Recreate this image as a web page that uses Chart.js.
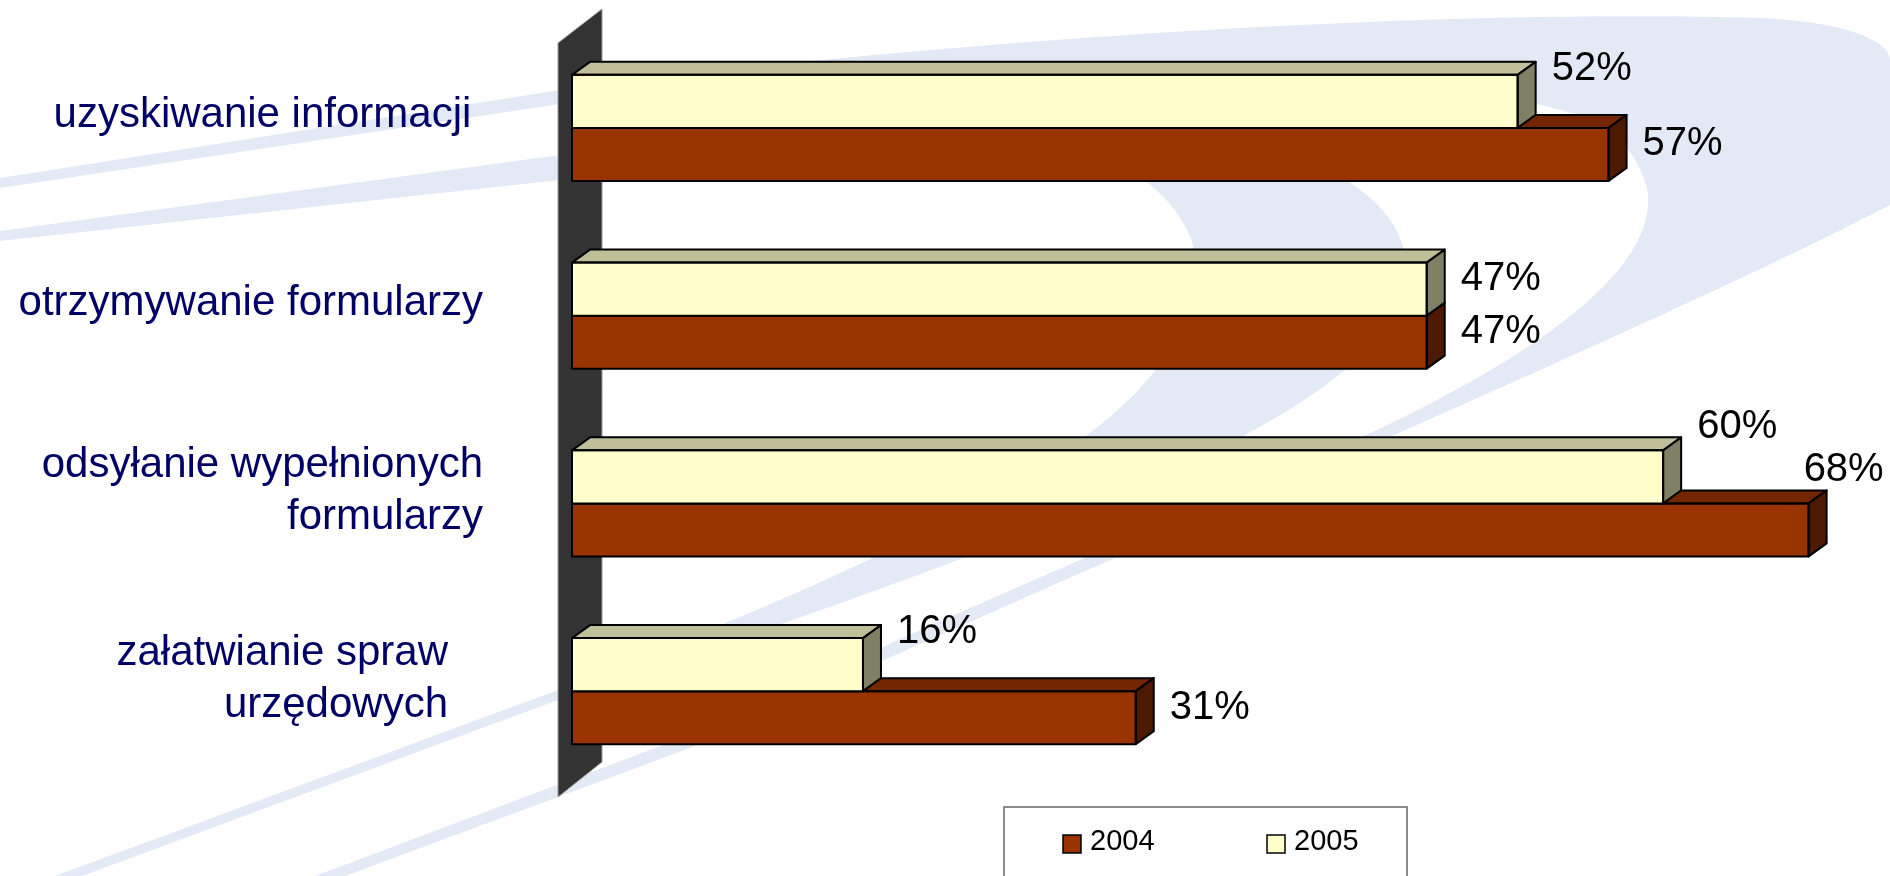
<!DOCTYPE html>
<html>
<head>
<meta charset="utf-8">
<title>Korzystanie z e-administracji 2004 / 2005</title>
<script src="https://cdn.jsdelivr.net/npm/chart.js@4.4.1/dist/chart.umd.min.js"></script>
<style>
  html, body { margin: 0; padding: 0; background: #fff; }
  #wrap { position: relative; width: 1890px; height: 876px; }
</style>
</head>
<body>
<div id="wrap"><canvas id="chart"></canvas></div>
<script>
// Categories, wrapped the way they are on the slide
const categories = [
    'uzyskiwanie informacji',
    'otrzymywanie formularzy',
    ['odsyłanie wypełnionych', 'formularzy'],
    ['załatwianie spraw', 'urzędowych']
];
const values2005 = [52, 47, 60, 16];
const values2004 = [57, 47, 68, 31];
const axisMax = 70;

const FONT = "'Liberation Sans', Arial, sans-serif";
const DEPTH_X = 18;
const DEPTH_Y = -13;

// front / top / side colours of the 3D bars
const faces = {
    '2005': { front: '#FFFFCC', top: '#BFBF99', side: '#808066' },
    '2004': { front: '#993300', top: '#732600', side: '#4D1900' }
};

// light blue swoosh in the slide background
const swooshPlugin = {
    id: 'swoosh',
    beforeDraw(chart) {
        const ctx = chart.ctx;
        ctx.save();
        ctx.fillStyle = '#E3EAF6';

        // outer band: thin line from the left, across the top, round the right, down to bottom left
        ctx.beginPath();
        ctx.moveTo(0, 178);
        ctx.lineTo(560, 90);
        ctx.bezierCurveTo(900, 45, 1400, 8, 1760, 18);
        ctx.bezierCurveTo(1850, 22, 1890, 42, 1890, 60);
        ctx.lineTo(1890, 205);
        ctx.bezierCurveTo(1650, 330, 1100, 560, 690, 748);
        ctx.lineTo(345, 876);
        ctx.lineTo(315, 876);
        ctx.lineTo(690, 735);
        ctx.bezierCurveTo(1000, 590, 1250, 490, 1400, 419);
        ctx.bezierCurveTo(1560, 340, 1660, 260, 1647, 188);
        ctx.bezierCurveTo(1630, 120, 1560, 100, 1450, 95);
        ctx.bezierCurveTo(1200, 85, 900, 90, 560, 104);
        ctx.lineTo(0, 188);
        ctx.closePath();
        ctx.fill();

        // inner arc, tapering into the line at bottom left
        ctx.beginPath();
        ctx.moveTo(950, 100);
        ctx.bezierCurveTo(1280, 110, 1440, 190, 1400, 300);
        ctx.bezierCurveTo(1360, 410, 1100, 520, 558, 700);
        ctx.lineTo(82, 876);
        ctx.lineTo(55, 876);
        ctx.lineTo(558, 690);
        ctx.bezierCurveTo(1000, 520, 1150, 420, 1190, 310);
        ctx.bezierCurveTo(1220, 220, 1150, 150, 950, 100);
        ctx.closePath();
        ctx.fill();

        // second thin line on the left
        ctx.beginPath();
        ctx.moveTo(0, 231);
        ctx.lineTo(560, 155);
        ctx.lineTo(560, 180);
        ctx.lineTo(0, 241);
        ctx.closePath();
        ctx.fill();
        ctx.restore();
    }
};

// dark 3D side wall behind the category axis
const wallPlugin = {
    id: 'wall',
    beforeDatasetsDraw(chart) {
        const { ctx, chartArea: a } = chart;
        ctx.save();
        ctx.fillStyle = '#333333';
        ctx.strokeStyle = '#999999';
        ctx.lineWidth = 1;
        ctx.beginPath();
        ctx.moveTo(a.left - 14, a.bottom + 12);
        ctx.lineTo(a.left - 14, a.top + 9);
        ctx.lineTo(a.left + 30, a.top - 25);
        ctx.lineTo(a.left + 30, a.bottom - 23);
        ctx.closePath();
        ctx.fill();
        ctx.stroke();
        ctx.restore();
    }
};

// top and end faces of every bar, drawn right after its dataset
const barDepthPlugin = {
    id: 'barDepth',
    afterDatasetDraw(chart, args) {
        const ctx = chart.ctx;
        const c = faces[chart.data.datasets[args.index].label];
        ctx.save();
        ctx.strokeStyle = '#000';
        ctx.lineWidth = 2;
        ctx.lineJoin = 'round';
        args.meta.data.forEach(bar => {
            const left = bar.base, right = bar.x;
            const top = bar.y - bar.height / 2, bottom = bar.y + bar.height / 2;

            ctx.fillStyle = c.top;
            ctx.beginPath();
            ctx.moveTo(left, top);
            ctx.lineTo(left + DEPTH_X, top + DEPTH_Y);
            ctx.lineTo(right + DEPTH_X, top + DEPTH_Y);
            ctx.lineTo(right, top);
            ctx.closePath();
            ctx.fill();
            ctx.stroke();

            ctx.fillStyle = c.side;
            ctx.beginPath();
            ctx.moveTo(right, top);
            ctx.lineTo(right + DEPTH_X, top + DEPTH_Y);
            ctx.lineTo(right + DEPTH_X, bottom + DEPTH_Y);
            ctx.lineTo(right, bottom);
            ctx.closePath();
            ctx.fill();
            ctx.stroke();

            // front outline on all four sides
            ctx.strokeRect(left, top, right - left, bottom - top);
        });
        ctx.restore();
    }
};

// percentage labels next to the bar ends
const valueLabelPlugin = {
    id: 'valueLabels',
    afterDatasetsDraw(chart) {
        const ctx = chart.ctx;
        const upper = chart.getDatasetMeta(0), lower = chart.getDatasetMeta(1);
        const up = chart.data.datasets[0].data, lo = chart.data.datasets[1].data;
        ctx.save();
        ctx.font = '40px ' + FONT;
        ctx.fillStyle = '#000';
        ctx.textBaseline = 'middle';
        ctx.textAlign = 'left';
        lower.data.forEach((bar, i) => {
            const txt = lo[i] + '%';
            const w = ctx.measureText(txt).width;
            const top = bar.y - bar.height / 2;
            let x = bar.x + 34, y = bar.y - 10;
            let lifted = false;
            if (x + w > chart.width - 4) {
                // no room on the right: put it above the bar end
                x = bar.x - 5;
                y = top - 33;
                lifted = true;
            }
            ctx.fillText(txt, x, y);

            const ub = upper.data[i];
            const utop = ub.y - ub.height / 2;
            let uy = ub.y - 10;
            if (lifted) uy = utop - 23;
            else if (lo[i] > up[i]) uy = utop - 6;
            ctx.fillText(up[i] + '%', ub.x + 34, uy);
        });
        ctx.restore();
    }
};

// boxed legend under the chart, 2004 first
const legendBoxPlugin = {
    id: 'legendBox',
    afterDraw(chart) {
        const { ctx, chartArea: a } = chart;
        const boxW = 403;
        const boxL = (a.left + a.right) / 2 - 3 - boxW / 2;
        const boxT = a.bottom + 22;
        ctx.save();
        ctx.fillStyle = '#fff';
        ctx.fillRect(boxL, boxT, boxW, chart.height - boxT + 5);
        ctx.strokeStyle = '#666';
        ctx.lineWidth = 1.5;
        ctx.strokeRect(boxL, boxT, boxW, chart.height - boxT + 5);

        ctx.font = '29px ' + FONT;
        ctx.textBaseline = 'middle';
        ctx.textAlign = 'left';
        [1, 0].forEach((di, k) => {
            const ds = chart.data.datasets[di];
            const sx = boxL + 59 + k * 204, cy = boxT + 37;
            ctx.fillStyle = ds.backgroundColor;
            ctx.fillRect(sx, cy - 9, 18, 18);
            ctx.strokeStyle = '#000';
            ctx.lineWidth = 1.5;
            ctx.strokeRect(sx, cy - 9, 18, 18);
            ctx.fillStyle = '#000';
            ctx.fillText(ds.label, sx + 27, cy - 2);
        });
        ctx.restore();
    }
};

new Chart(document.getElementById('chart'), {
    type: 'bar',
    data: {
        labels: categories,
        datasets: [
            {
                label: '2005',
                data: values2005,
                backgroundColor: faces['2005'].front,
                borderWidth: 0
            },
            {
                label: '2004',
                data: values2004,
                backgroundColor: faces['2004'].front,
                borderWidth: 0
            }
        ]
    },
    options: {
        indexAxis: 'y',
        responsive: true,
        maintainAspectRatio: false,
        animation: false,
        layout: { padding: { left: 12, right: 45, top: 34, bottom: 91 } },
        datasets: {
            bar: { categoryPercentage: 0.565, barPercentage: 1 }
        },
        scales: {
            x: { display: false, min: 0, max: axisMax },
            y: {
                grid: { display: false, drawTicks: false },
                border: { display: false },
                ticks: {
                    color: '#000066',
                    font: { family: FONT, size: 42, lineHeight: 1.24 },
                    padding: 89,
                    labelOffset: -12,
                    autoSkip: false,
                    callback: function (value, index) {
                        const label = this.getLabelForValue(value);
                        // the slide's text boxes end a bit short for these two
                        if (index === 0) return label + ' ';
                        if (index === 3) return label.map(l => l + '   ');
                        return label;
                    }
                },
                afterFit(scale) {
                    scale.width = 560;
                    // tick padding is only meant sideways here
                    scale.paddingTop = 0;
                    scale.paddingBottom = 0;
                }
            }
        },
        plugins: {
            legend: { display: false },
            tooltip: { enabled: false }
        }
    },
    plugins: [swooshPlugin, wallPlugin, barDepthPlugin, valueLabelPlugin, legendBoxPlugin]
});
</script>
</body>
</html>
